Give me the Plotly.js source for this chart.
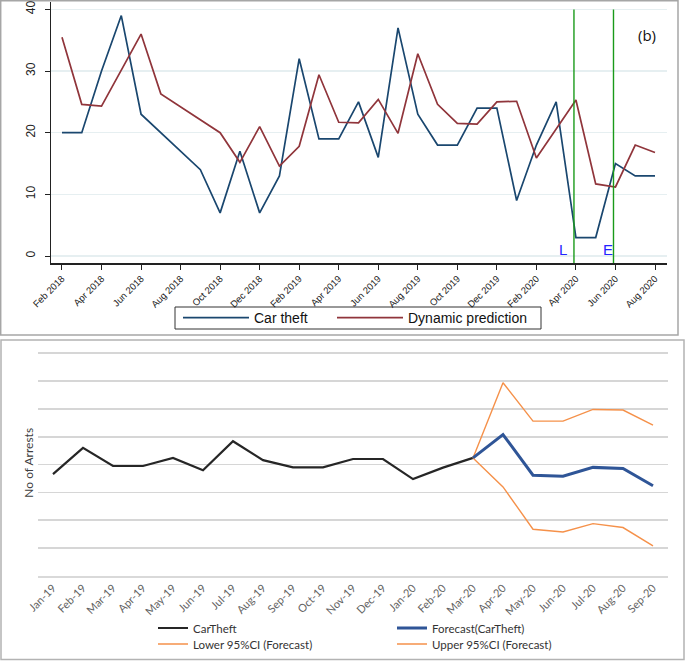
<!DOCTYPE html>
<html><head><meta charset="utf-8">
<script src="https://cdn.plot.ly/plotly-3.0.1.min.js"></script>
<style>html,body{margin:0;padding:0;background:#fff}</style>
</head><body><div id="chart" style="width:685px;height:661px"></div>
<script>
// ---------- Panel (b): car theft vs dynamic prediction ----------
const topMonths = ['Feb 2018','Mar 2018','Apr 2018','May 2018','Jun 2018','Jul 2018','Aug 2018','Sep 2018','Oct 2018','Nov 2018','Dec 2018',
  'Jan 2019','Feb 2019','Mar 2019','Apr 2019','May 2019','Jun 2019','Jul 2019','Aug 2019','Sep 2019','Oct 2019','Nov 2019','Dec 2019',
  'Jan 2020','Feb 2020','Mar 2020','Apr 2020','May 2020','Jun 2020','Jul 2020','Aug 2020'];
const carTheft = [20,20,30,39,23,20,17,14,7,17,7,13,32,19,19,25,16,37,23,18,18,24,24,9,18,25,3,3,15,13,13];
const dynPred  = [35.5,24.6,24.3,30.1,36,26.3,24.2,22.1,20,15.2,21,14.6,17.8,29.4,21.7,21.6,25.4,19.9,32.8,24.6,21.5,21.4,25,25.1,15.9,20.6,25.3,11.7,11.2,18,16.8];
const topTickLabels = topMonths.filter((m,i)=>i%2===0);
const topYTicks = [0,10,20,30,40];
const lockdownMarks = [25.9, 27.9];   // L (lockdown) and E (easing), just before Apr/Jun 2020
const markLabels = ['L','E'];

// ---------- Lower panel: arrests forecast ----------
const bottomMonths = ['Jan-19','Feb-19','Mar-19','Apr-19','May-19','Jun-19','Jul-19','Aug-19','Sep-19','Oct-19','Nov-19','Dec-19',
  'Jan-20','Feb-20','Mar-20','Apr-20','May-20','Jun-20','Jul-20','Aug-20','Sep-20'];
const arrests  = [18.3,23.0,19.75,19.75,21.2,19.0,24.2,20.8,19.5,19.5,21.0,21.0,17.4,19.45,21.2];
const fcMonths = bottomMonths.slice(14);
const forecast = [21.2,25.4,18.1,17.9,19.5,19.3,16.2];
const upperCI  = [21.2,34.7,27.8,27.8,29.9,29.8,27.1];
const lowerCI  = [21.2,16.0,8.4,7.9,9.4,8.7,5.4];
const arrestGridTicks = [0,5,10,15,20,25,30,35,40];   // unlabeled value axis in the original

const W = 685, H = 661;
const px = v => v / W;
const py = v => 1 - v / H;

const TOPFONT = 'Liberation Sans, Arial, sans-serif';
const BOTFONT = 'Lato, Open Sans, sans-serif';

const traces = [
  {x: topMonths, y: carTheft, type:'scatter', mode:'lines', name:'Car theft',
   line:{color:'#1a476f', width:1.7}, xaxis:'x', yaxis:'y', legend:'legend'},
  {x: topMonths, y: dynPred, type:'scatter', mode:'lines', name:'Dynamic prediction',
   line:{color:'#90353b', width:1.7}, xaxis:'x', yaxis:'y', legend:'legend6'},

  {x: bottomMonths.slice(0, arrests.length), y: arrests, type:'scatter', mode:'lines', name:'CarTheft',
   line:{color:'#262626', width:2.2}, xaxis:'x2', yaxis:'y2', legend:'legend2'},
  {x: fcMonths, y: lowerCI, type:'scatter', mode:'lines', name:'Lower 95%CI (Forecast)',
   line:{color:'#f5914a', width:1.4}, xaxis:'x2', yaxis:'y2', legend:'legend4'},
  {x: fcMonths, y: upperCI, type:'scatter', mode:'lines', name:'Upper 95%CI (Forecast)',
   line:{color:'#f5914a', width:1.4}, xaxis:'x2', yaxis:'y2', legend:'legend5'},
  {x: fcMonths, y: forecast, type:'scatter', mode:'lines', name:'Forecast(CarTheft)',
   line:{color:'#2f5597', width:3}, xaxis:'x2', yaxis:'y2', legend:'legend3'}
];

const shapes = [
  // panel frames
  {type:'rect', xref:'paper', yref:'paper', x0:px(0.7), x1:px(678), y0:py(335), y1:py(0.7),
   line:{color:'#a6a6a6', width:1.5}, layer:'below'},
  {type:'rect', xref:'paper', yref:'paper', x0:px(1), x1:px(684), y0:py(659.5), y1:py(340),
   line:{color:'#b3b3b3', width:1.5}, layer:'below'},
  // legend box of top panel
  {type:'rect', xref:'paper', yref:'paper', x0:px(175), x1:px(541), y0:py(329), y1:py(307),
   line:{color:'#333333', width:1}, layer:'below'}
];
lockdownMarks.forEach(m => shapes.push({type:'line', xref:'x', yref:'y', x0:m, x1:m, y0:-1.18, y1:40,
  line:{color:'#1a9a1a', width:1.4}}));

const annotations = [
  {text:'(b)', xref:'x', yref:'y', x:29.62, y:35.9, showarrow:false, font:{family:'Open Sans, sans-serif', size:15, color:'#111'}},
  {text:'No of Arrests', xref:'paper', yref:'paper', x:px(27.7), y:py(463), textangle:-90, showarrow:false,
   xanchor:'center', yanchor:'middle', font:{family:BOTFONT, size:12, color:'#404040'}}
];
markLabels.forEach((t,i) => annotations.push({text:t, xref:'x', yref:'y', x:[25.33,27.62][i], y:1.14, showarrow:false,
  font:{family:TOPFONT, size:15, color:'#2424ff'}}));

const legendBase = (x, y) => ({x:px(x), xanchor:'left', y:py(y), yanchor:'middle', orientation:'v',
  bgcolor:'rgba(0,0,0,0)', borderwidth:0, font:{family:BOTFONT, size:11.5, color:'#333'}});
const topLegend = (x) => ({x:px(x), xanchor:'left', y:py(318), yanchor:'middle', orientation:'h', itemwidth:66,
  bgcolor:'rgba(0,0,0,0)', borderwidth:0, font:{family:TOPFONT, size:14, color:'#111'}});

const layout = {
  width:W, height:H, margin:{l:0,r:0,t:0,b:0},
  paper_bgcolor:'#fff', plot_bgcolor:'#fff', showlegend:true,
  xaxis:{domain:[px(51), px(667)], anchor:'y', type:'category', categoryarray:topMonths,
    range:[-0.556, 30.607], tickmode:'array', tickvals:topTickLabels, ticktext:topTickLabels,
    tickangle:-45, ticks:'outside', ticklen:5, tickcolor:'#222', showline:true, linecolor:'#222', linewidth:1.2,
    showgrid:false, zeroline:false, tickfont:{family:TOPFONT, size:9.5, color:'#222'}},
  yaxis:{domain:[py(263.3), py(2)], anchor:'x', range:[-1.18, 41.2], tickmode:'array', tickvals:topYTicks,
    tickangle:-90, ticks:'outside', ticklen:5, tickcolor:'#222', showline:true, linecolor:'#222', linewidth:1.2,
    ticklabelstandoff:5,
    showgrid:true, gridcolor:'#e6eff1', gridwidth:1.5, zeroline:false,
    tickfont:{family:TOPFONT, size:12, color:'#222'}},
  xaxis2:{domain:[px(38), px(668)], anchor:'y2', type:'category', categoryarray:bottomMonths,
    range:[-0.5, 20.5], tickangle:-45, ticks:'', showline:true, linecolor:'#d9d9d9', linewidth:1.5,
    showgrid:false, zeroline:false, tickfont:{family:BOTFONT, size:11, color:'#636363'}},
  yaxis2:{domain:[py(576), py(342.05)], anchor:'x2', range:[0, 42], tickmode:'array', tickvals:arrestGridTicks,
    showticklabels:false, ticks:'', showgrid:true, gridcolor:'#d6d6d6', gridwidth:1.6, zeroline:false, showline:false},
  legend: topLegend(178),
  legend6: topLegend(332),
  legend2: legendBase(153, 628),
  legend3: legendBase(392, 628),
  legend4: legendBase(153, 644),
  legend5: legendBase(392, 644),
  shapes: shapes,
  annotations: annotations
};

Plotly.newPlot('chart', traces, layout, {displayModeBar:false, staticPlot:true});
</script>
</body></html>
